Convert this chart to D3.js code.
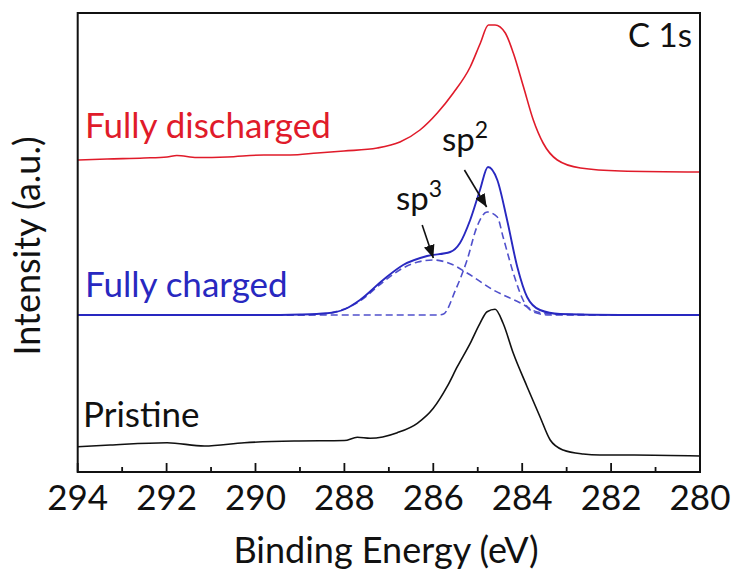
<!DOCTYPE html>
<html><head><meta charset="utf-8">
<script src="https://cdn.jsdelivr.net/npm/d3@7"></script>
<style>body{margin:0;background:#fff}svg{display:block}text{font-family:Lato,"Open Sans",sans-serif}</style>
</head><body><svg id="c" width="734" height="571"></svg>
<script>
// Binding energy (eV) and intensity (a.u., offset curves)
const pristineE = [294,293.27,291.99,291.15,290.25,289.13,288.0,287.71,287.42,286.81,286.36,286.0,285.69,285.46,285.17,284.95,284.79,284.61,284.43,284.2,283.89,283.6,283.37,283.08,282.63,282.25,281.48,280];
const pristineI = [25.3,27,29.3,26,29.3,31,31.5,34.7,33.7,39.3,48.7,63.7,85.3,105.3,128.7,148.7,160.3,162.7,148.7,118.7,85.3,55.3,32,22,18,17,17,16];

const chargedE = [294,291.24,289.89,288.99,288.39,287.98,287.65,287.13,286.68,286.14,285.62,285.4,285.17,284.95,284.77,284.56,284.34,284.11,283.89,283.6,283.15,281.79,280];
const chargedI = [157,157,157,157.5,158.7,163,172,192,207,216,220,229,252,282,305,292,252,205,175,162,158,157,157];

const sp3E = [294,289,288.4,288.0,287.65,287.13,286.68,286.35,286.0,285.6,285.24,284.65,284.04,283.66,283.2,280];
const sp3I = [157,157,158.5,163,171,190,204,210,212,208,199,182,169,160,157.5,157];

const sp2E = [294,285.9,285.77,285.5,285.24,285.02,284.79,284.56,284.43,284.2,283.98,283.75,283.4,280];
const sp2I = [157,157,158,182,212,245,260,255,235,199,172,160,157,157];

const dischargedE = [294,293.34,292.51,291.99,291.77,291.32,290.64,289.81,289.22,288.61,288.01,287.26,286.75,286.3,285.91,285.55,285.17,284.94,284.76,284.61,284.38,284.2,283.97,283.75,283.53,283.21,282.69,281.79,280];
const dischargedI = [312,313,314,315,316.5,314.5,315,317,317,319,321,324,330,342,359,379,405,429,447,447,439,419,385,352,329,312,304,301,300];

const xTicks = [294,292,290,288,286,284,282,280];
const xMinor = [293,291,289,287,285,283,281];
const seriesLabels = ["Fully discharged","Fully charged","Pristine"];

const svg = d3.select("#c");
const L=77.7, R=700, T=13, B=472;
const x = d3.scaleLinear().domain([294,280]).range([L,R]);
const y = d3.scaleLinear().domain([0,459]).range([B,T]);

const zip=(E,I)=>E.map((e,i)=>[e,I[i]]);
const line = d3.line().x(d=>x(d[0])).y(d=>y(d[1])).curve(d3.curveMonotoneX);

const red="#e01b2a", blue="#2828c0", dblue="#5050cc";

// dashed components
svg.append("path").attr("d",line(zip(sp3E,sp3I))).attr("fill","none").attr("stroke",dblue).attr("stroke-width",1.6).attr("stroke-dasharray","7,4");
svg.append("path").attr("d",line(zip(sp2E,sp2I))).attr("fill","none").attr("stroke",dblue).attr("stroke-width",1.6).attr("stroke-dasharray","7,4");
svg.append("path").attr("d",line(zip(chargedE,chargedI))).attr("fill","none").attr("stroke",blue).attr("stroke-width",1.9);
svg.append("path").attr("d",line(zip(dischargedE,dischargedI))).attr("fill","none").attr("stroke",red).attr("stroke-width",1.6);
svg.append("path").attr("d",line(zip(pristineE,pristineI))).attr("fill","none").attr("stroke","#111").attr("stroke-width",1.6);

// frame
svg.append("rect").attr("x",L).attr("y",T).attr("width",R-L).attr("height",B-T).attr("fill","none").attr("stroke","#111").attr("stroke-width",2);

// inward ticks
const ax = svg.append("g");
ax.selectAll(".maj").data(xTicks).enter().append("line").attr("x1",d=>x(d)).attr("x2",d=>x(d)).attr("y1",B).attr("y2",B-9).attr("stroke","#111").attr("stroke-width",1.8);
ax.selectAll(".min").data(xMinor).enter().append("line").attr("x1",d=>x(d)).attr("x2",d=>x(d)).attr("y1",B).attr("y2",B-5).attr("stroke","#111").attr("stroke-width",1.8);
ax.selectAll(".lbl").data(xTicks).enter().append("text").attr("x",d=>x(d)).attr("y",510).attr("text-anchor","middle").attr("font-size",35).attr("fill","#111").text(d=>d);

svg.append("text").attr("x",386).attr("y",563).attr("text-anchor","middle").attr("font-size",36).attr("fill","#111").text("Binding Energy (eV)");
svg.append("text").attr("transform","translate(40,246) rotate(-90)").attr("text-anchor","middle").attr("font-size",36).attr("fill","#111").text("Intensity (a.u.)");

// series labels
svg.append("text").attr("x",85).attr("y",138).attr("font-size",35).attr("fill",red).text(seriesLabels[0]);
svg.append("text").attr("x",85).attr("y",297).attr("font-size",35).attr("fill",blue).text(seriesLabels[1]);
svg.append("text").attr("x",83).attr("y",427).attr("font-size",35).attr("fill","#111").text(seriesLabels[2]);
svg.append("text").attr("x",692).attr("y",47).attr("text-anchor","end").attr("font-size",33).attr("fill","#111").text("C 1s");

// sp annotations
const sp3 = svg.append("text").attr("x",396).attr("y",210).attr("font-size",33).attr("fill","#111");
sp3.append("tspan").text("sp");
sp3.append("tspan").attr("dy",-13).attr("font-size",23).text("3");
const sp2 = svg.append("text").attr("x",442).attr("y",151).attr("font-size",33).attr("fill","#111");
sp2.append("tspan").text("sp");
sp2.append("tspan").attr("dy",-13).attr("font-size",23).text("2");

svg.append("defs").append("marker").attr("id","ah").attr("viewBox","0 0 10 10").attr("refX",10).attr("refY",5)
  .attr("markerWidth",13).attr("markerHeight",11).attr("markerUnits","userSpaceOnUse").attr("orient","auto")
  .attr("preserveAspectRatio","none")
  .append("path").attr("d","M0,0 L10,5 L0,10 Z").attr("fill","#111");
// arrows anchored to data coordinates
const arrows = [[286.25,247,286.0,214],[285.3,302,284.8,265]];
arrows.forEach(a=>{
  svg.append("line").attr("x1",x(a[0])).attr("y1",y(a[1])).attr("x2",x(a[2])).attr("y2",y(a[3]))
    .attr("stroke","#111").attr("stroke-width",1.6).attr("marker-end","url(#ah)");
});
</script></body></html>
